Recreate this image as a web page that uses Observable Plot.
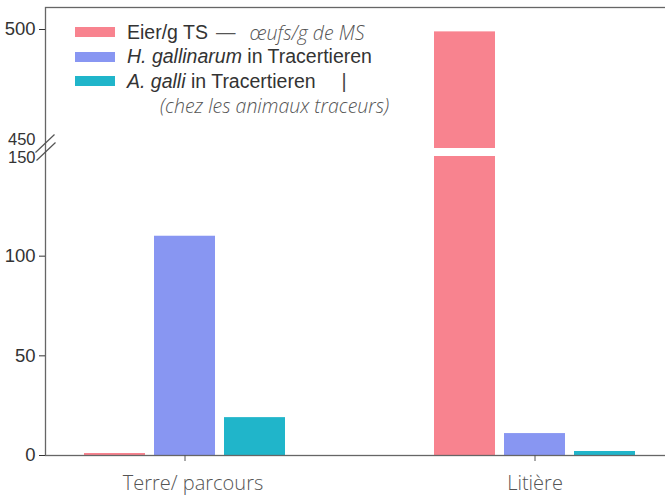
<!DOCTYPE html>
<html><head><meta charset="utf-8">
<script src="https://cdn.jsdelivr.net/npm/d3@7"></script>
<script src="https://cdn.jsdelivr.net/npm/@observablehq/plot@0.6"></script>
<style>
body{margin:0;background:#fff;}
#wrap{position:relative;width:665px;height:497px;overflow:hidden;}
#legend{position:absolute;left:75px;top:20px;font-family:"Liberation Sans",Arial,sans-serif;font-size:19.5px;color:#333;}
.row{display:flex;align-items:center;height:24.5px;white-space:nowrap}
.sw{width:40px;height:10px;margin-right:12px;display:inline-block}
.it{font-family:"Open Sans",sans-serif;font-style:italic;font-weight:300;color:#555}
</style></head>
<body><div id="wrap"><div id="legend"></div></div>
<script>
const categories = ["Terre/ parcours", "Litière"];
const seriesKeys = ["eier", "hgall", "agalli"];
const seriesColors = ["#f8838f", "#8896f2", "#20b5ca"];
const valuesTerre = [1, 110, 19];
const valuesLitiere = [499, 11, 2];
const yTicksLower = [0, 50, 100, 150];
const yTicksUpper = [450, 500];
const legendMain = ["Eier/g TS", "in Tracertieren", "in Tracertieren"];
const legendItalic = ["H. gallinarum", "A. galli"];
const legendFrench = ["œufs/g de MS", "(chez les animaux traceurs)"];

const breakLow = yTicksLower[yTicksLower.length - 1];
const breakHigh = yTicksUpper[0];
const yTop = yTicksUpper[yTicksUpper.length - 1];
const valuesByCat = [valuesTerre, valuesLitiere];

// broken axis: lower part 0..150 and upper part 450..500 stacked with a small gap
const lowerSpan = 299, gapSpan = 8, upperSpan = 119;
const brk = v => v <= breakLow
  ? v / breakLow * lowerSpan
  : lowerSpan + gapSpan + (v - breakHigh) / (yTop - breakHigh) * upperSpan;

// band slots: 3 bars per category, two empty slots between groups
const slots = [];
categories.forEach((c, i) => {
  if (i > 0) slots.push("gap" + i + "a", "gap" + i + "b");
  seriesKeys.forEach(s => slots.push(c + "|" + s));
});
const catTicks = categories.map(c => c + "|" + seriesKeys[1]);

const segments = [];
categories.forEach((c, i) => {
  seriesKeys.forEach((s, j) => {
    const v = valuesByCat[i][j];
    const key = c + "|" + s;
    if (v > breakHigh) {
      segments.push({key, series: s, y1: brk(0), y2: brk(breakLow)});
      segments.push({key, series: s, y1: brk(breakHigh), y2: brk(v)});
    } else {
      segments.push({key, series: s, y1: brk(0), y2: brk(v)});
    }
  });
});

const breakSymbol = {
  draw(ctx) {
    ctx.moveTo(-10, 4); ctx.lineTo(9, -14);
    ctx.moveTo(-9, 12); ctx.lineTo(10, -6);
  }
};

const axisFont = {fontSize: 18.5, fontFamily: "Liberation Sans, Arial, sans-serif"};
const breakFont = {fontSize: 16.5, fontFamily: "Liberation Sans, Arial, sans-serif"};
const fmt = t => String(t);
const catFont = {fontSize: 20, fontFamily: "Open Sans, sans-serif", fontWeight: 300};

const chart = Plot.plot({
  width: 665, height: 497,
  marginLeft: 45, marginRight: -2, marginTop: 7, marginBottom: 42,
  style: {background: "transparent", color: "#333"},
  x: {type: "band", domain: slots, range: [48, 671], paddingInner: 0.13, paddingOuter: 0.5, label: null},
  y: {type: "linear", domain: [0, brk(yTop)], range: [455, 29], label: null},
  color: {domain: seriesKeys, range: seriesColors},
  marks: [
    Plot.barY(segments, {x: "key", y1: "y1", y2: "y2", fill: "series"}),
    Plot.frame({stroke: "#666", strokeWidth: 1.3}),
    Plot.axisY([0, 50, 100, 500].map(brk), {tickSize: 6, tickPadding: 4, color: "#333", ...axisFont,
      tickFormat: (d, i) => fmt([0, 50, 100, 500][i])}),
    Plot.axisY([brk(breakLow)], {tickSize: 0, tickPadding: 10, dy: 1, color: "#333", ...breakFont, tickFormat: () => fmt(breakLow)}),
    Plot.axisY([brk(breakHigh)], {tickSize: 0, tickPadding: 10, dy: -9, color: "#333", ...breakFont, tickFormat: () => fmt(breakHigh)}),
    Plot.dot([brk(breakHigh)], {y: d => d, frameAnchor: "left", symbol: breakSymbol, stroke: "#555", fill: "none", strokeWidth: 1.2}),
    Plot.axisX(catTicks, {tickSize: 6, tickFormat: () => "", color: "#555", label: null}),
    Plot.axisX([catTicks[0]], {
      tickFormat: k => k.split("|")[0], tickSize: 0, tickPadding: 20, dx: 8, color: "#555", label: null, ...catFont
    }),
    Plot.axisX([catTicks[1]], {
      tickFormat: k => k.split("|")[0], tickSize: 0, tickPadding: 20, color: "#555", label: null, ...catFont
    })
  ]
});
document.getElementById("wrap").prepend(chart);

// legend
const lg = document.getElementById("legend");
const rows = [
  `<div class="row"><span class="sw" style="background:${seriesColors[0]}"></span>${legendMain[0]}<span style="margin:0 14px 0 8px;font-weight:300;color:#555">—</span><span class="it">${legendFrench[0]}</span></div>`,
  `<div class="row"><span class="sw" style="background:${seriesColors[1]}"></span><i>${legendItalic[0]}</i>&nbsp;${legendMain[1]}</div>`,
  `<div class="row"><span class="sw" style="background:${seriesColors[2]}"></span><i>${legendItalic[1]}</i>&nbsp;${legendMain[2]}<span style="margin-left:26px;color:#444;font-weight:300">|</span></div>`,
  `<div class="row"><span class="it" style="margin-left:85px">${legendFrench[1]}</span></div>`
];
lg.innerHTML = rows.join("");
</script>
</body></html>
